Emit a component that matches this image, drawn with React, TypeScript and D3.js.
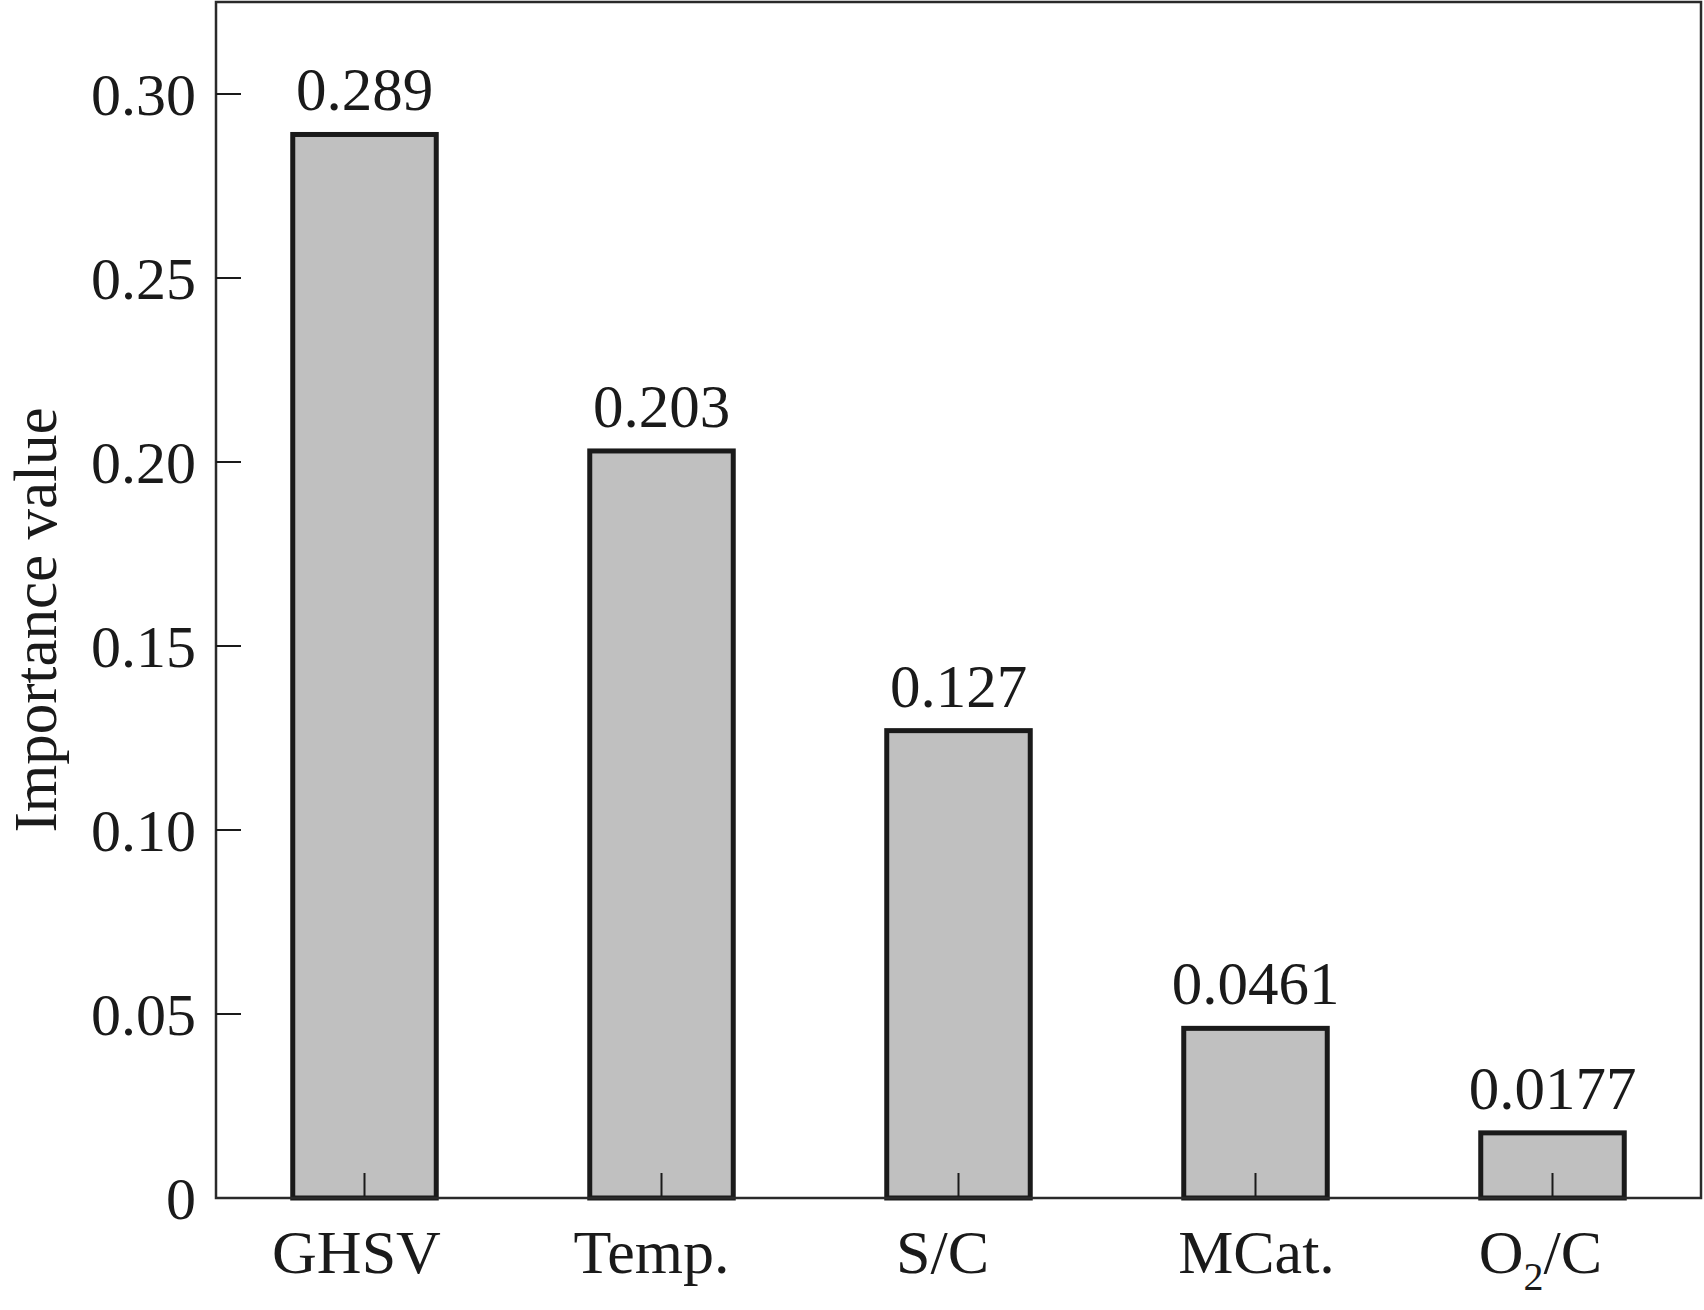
import React from "react";
import * as d3 from "d3";

const categories = ["GHSV", "Temp.", "S/C", "MCat.", "O2/C"];
const values = [0.289, 0.203, 0.127, 0.0461, 0.0177];
const valueLabels = ["0.289", "0.203", "0.127", "0.0461", "0.0177"];
const yTicks = [0, 0.05, 0.1, 0.15, 0.2, 0.25, 0.3];
const yTickLabels = ["0", "0.05", "0.10", "0.15", "0.20", "0.25", "0.30"];

const W = 1704;
const H = 1310;
const left = 216;
const right = 1701;
const top = 2;
const bottom = 1198;
const FONT = "'Liberation Serif', 'Times New Roman', serif";
const INK = "#1a1a1a";

// small horizontal nudges of category labels (styling only)
const labelNudge: Record<string, number> = {
  GHSV: -8,
  "Temp.": -10,
  "S/C": -16,
  "MCat.": 1,
  "O2/C": -12,
};

export default function App() {
  const x = d3
    .scaleBand<string>()
    .domain(categories)
    .range([left, right])
    .paddingInner(0.5)
    .paddingOuter(0.25);
  const y = d3.scaleLinear().domain([0, 0.325]).range([bottom, top]);

  React.useEffect(() => {
    document.body.style.margin = "0";
  }, []);

  const renderLabel = (c: string) => {
    if (c === "O2/C") {
      return (
        <>
          O<tspan fontSize={40} dy={17}>2</tspan>
          <tspan dy={-17}>/C</tspan>
        </>
      );
    }
    return c;
  };

  return (
    <svg width={W} height={H} style={{ display: "block", background: "#fff" }} fontFamily={FONT}>
      <rect x={0} y={0} width={W} height={H} fill="#fff" />
      {categories.map((c, i) => {
        const x0 = x(c)!;
        const bw = x.bandwidth();
        const yv = y(values[i]);
        const cx = x0 + bw / 2;
        return (
          <g key={c}>
            <rect
              x={x0 + 2.5}
              y={yv}
              width={bw - 5}
              height={bottom - yv}
              fill="#c0c0c0"
              stroke={INK}
              strokeWidth={5}
            />
            <line x1={cx} x2={cx} y1={bottom} y2={bottom - 25} stroke={INK} strokeWidth={2} />
            <text x={cx} y={yv - 24} textAnchor="middle" fontSize={61} fill={INK}>
              {valueLabels[i]}
            </text>
            <text x={cx + labelNudge[c]} y={1273} textAnchor="middle" fontSize={62} fill={INK}>
              {renderLabel(c)}
            </text>
          </g>
        );
      })}
      <rect x={left} y={top} width={right - left} height={bottom - top} fill="none" stroke="#2a2a2a" strokeWidth={2.5} />
      {yTicks.map((t, i) => (
        <g key={t}>
          {t > 0 && <line x1={left} x2={left + 25} y1={y(t)} y2={y(t)} stroke={INK} strokeWidth={2} />}
          <text x={196} y={y(t) + 21} textAnchor="end" fontSize={60} fill={INK}>
            {yTickLabels[i]}
          </text>
        </g>
      ))}
      <text
        transform={`translate(56, 620) rotate(-90)`}
        textAnchor="middle"
        fontSize={61}
        fill={INK}
      >
        Importance value
      </text>
    </svg>
  );
}
